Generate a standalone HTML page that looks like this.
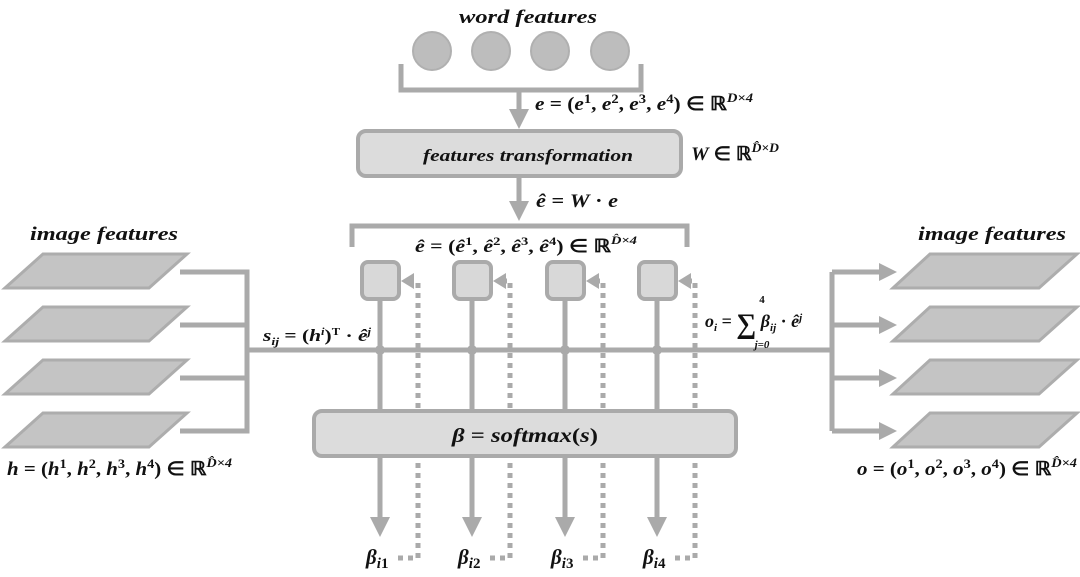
<!DOCTYPE html>
<html><head><meta charset="utf-8"><style>
body{margin:0;background:#fff}
svg{display:block}
text{font-family:"Liberation Serif",serif;font-weight:bold;fill:#111}
.it{font-style:italic}
</style></head><body>
<svg width="1080" height="577" viewBox="0 0 1080 577" xmlns="http://www.w3.org/2000/svg">
<defs>
<marker id="ah" markerWidth="4" markerHeight="4" refX="2.2" refY="2" orient="auto" markerUnits="strokeWidth"><path d="M0,0 L4,2 L0,4 z" fill="#aaa"/></marker>
<marker id="ah2" markerWidth="3.6" markerHeight="3.6" refX="1.8" refY="1.8" orient="auto" markerUnits="strokeWidth"><path d="M0,0 L3.6,1.8 L0,3.6 z" fill="#aaa"/></marker>
</defs>
<g fill="none" stroke="#aaa" stroke-width="5">
<path d="M401,64 V90 H641 V64"/>
<line x1="519" y1="90" x2="519" y2="120" marker-end="url(#ah)"/>
<line x1="519" y1="177" x2="519" y2="212" marker-end="url(#ah)"/>
<path d="M352,247 V226 H687 V247"/>
<line x1="245" y1="350" x2="832" y2="350"/>
<path d="M180,272 H247 V431 H180 M180,325 H247 M180,378 H247"/>
<path d="M832,272 V431"/>
<line x1="832" y1="272" x2="888" y2="272" marker-end="url(#ah2)"/>
<line x1="832" y1="325" x2="888" y2="325" marker-end="url(#ah2)"/>
<line x1="832" y1="378" x2="888" y2="378" marker-end="url(#ah2)"/>
<line x1="832" y1="431" x2="888" y2="431" marker-end="url(#ah2)"/>
<line x1="380" y1="300" x2="380" y2="410"/><line x1="472" y1="300" x2="472" y2="410"/>
<line x1="565" y1="300" x2="565" y2="410"/><line x1="657" y1="300" x2="657" y2="410"/>
<line x1="380" y1="457" x2="380" y2="528" marker-end="url(#ah)"/>
<line x1="472" y1="457" x2="472" y2="528" marker-end="url(#ah)"/>
<line x1="565" y1="457" x2="565" y2="528" marker-end="url(#ah)"/>
<line x1="657" y1="457" x2="657" y2="528" marker-end="url(#ah)"/>
</g>
<g fill="none" stroke="#aaa" stroke-width="5" stroke-dasharray="5,5">
<path d="M398,558 H418 V281"/><path d="M490,558 H510 V281 H498"/>
<path d="M583,558 H603 V281 H591"/><path d="M675,558 H695 V281 H683"/>
</g>
<g fill="#aaa">
<path d="M401,281 L414,273 L414,289 z"/><path d="M493,281 L506,273 L506,289 z"/>
<path d="M586,281 L599,273 L599,289 z"/><path d="M678,281 L691,273 L691,289 z"/>
<circle cx="380" cy="350" r="5"/><circle cx="472" cy="350" r="5"/><circle cx="565" cy="350" r="5"/><circle cx="657" cy="350" r="5"/>
</g>
<g fill="#bdbdbd" stroke="#b0b0b0" stroke-width="2">
<circle cx="432" cy="51" r="19"/><circle cx="491" cy="51" r="19"/><circle cx="550" cy="51" r="19"/><circle cx="610" cy="51" r="19"/>
</g>
<rect x="358" y="131" width="323" height="45" rx="8" fill="#dcdcdc" stroke="#aaa" stroke-width="4"/>
<rect x="314" y="411" width="422" height="45" rx="8" fill="#dcdcdc" stroke="#aaa" stroke-width="4"/>
<g fill="#d8d8d8" stroke="#aaa" stroke-width="4">
<rect x="362" y="262" width="37" height="37" rx="6"/><rect x="454" y="262" width="37" height="37" rx="6"/>
<rect x="547" y="262" width="37" height="37" rx="6"/><rect x="639" y="262" width="37" height="37" rx="6"/>
</g>
<g fill="#c4c4c4" stroke="#adadad" stroke-width="3">
<path d="M5,288 L43,254 L187,254 L149,288 z"/><path d="M5,341 L43,307 L187,307 L149,341 z"/>
<path d="M5,394 L43,360 L187,360 L149,394 z"/><path d="M5,447 L43,413 L187,413 L149,447 z"/>
<path d="M893,288 L930,254 L1077,254 L1039,288 z"/><path d="M893,341 L930,307 L1077,307 L1039,341 z"/>
<path d="M893,394 L930,360 L1077,360 L1039,394 z"/><path d="M893,447 L930,413 L1077,413 L1039,447 z"/>
</g>
<text class="it" x="459" y="23" font-size="19" textLength="138" lengthAdjust="spacingAndGlyphs">word features</text>
<text class="it" x="423" y="161" font-size="17" textLength="210" lengthAdjust="spacingAndGlyphs">features transformation</text>
<text class="it" x="30" y="240" font-size="19" textLength="148" lengthAdjust="spacingAndGlyphs">image features</text>
<text class="it" x="918" y="240" font-size="19" textLength="148" lengthAdjust="spacingAndGlyphs">image features</text>
<text x="535" y="110" font-size="19" textLength="218" lengthAdjust="spacingAndGlyphs"><tspan class="it">e</tspan> = (<tspan class="it">e</tspan><tspan font-size="13" dy="-7">1</tspan><tspan dy="7">, </tspan><tspan class="it">e</tspan><tspan font-size="13" dy="-7">2</tspan><tspan dy="7">, </tspan><tspan class="it">e</tspan><tspan font-size="13" dy="-7">3</tspan><tspan dy="7">, </tspan><tspan class="it">e</tspan><tspan font-size="13" dy="-7">4</tspan><tspan dy="7">) ∈ ℝ</tspan><tspan font-size="13" dy="-8" class="it">D×4</tspan></text>
<text x="691" y="160" font-size="19" textLength="88" lengthAdjust="spacingAndGlyphs"><tspan class="it">W</tspan> ∈ ℝ<tspan font-size="13" dy="-8" class="it">D̂×D</tspan></text>
<text x="536" y="207" font-size="19" textLength="82" lengthAdjust="spacingAndGlyphs"><tspan class="it">ê</tspan> = <tspan class="it">W</tspan> · <tspan class="it">e</tspan></text>
<text x="415" y="252" font-size="18" textLength="222" lengthAdjust="spacingAndGlyphs"><tspan class="it">ê</tspan> = (<tspan class="it">ê</tspan><tspan font-size="12" dy="-7">1</tspan><tspan dy="7">, </tspan><tspan class="it">ê</tspan><tspan font-size="12" dy="-7">2</tspan><tspan dy="7">, </tspan><tspan class="it">ê</tspan><tspan font-size="12" dy="-7">3</tspan><tspan dy="7">, </tspan><tspan class="it">ê</tspan><tspan font-size="12" dy="-7">4</tspan><tspan dy="7">) ∈ ℝ</tspan><tspan font-size="12" dy="-8" class="it">D̂×4</tspan></text>
<text x="263" y="341" font-size="17" textLength="108" lengthAdjust="spacingAndGlyphs"><tspan class="it">s</tspan><tspan class="it" font-size="11" dy="4">ij</tspan><tspan dy="-4"> = (</tspan><tspan class="it">h</tspan><tspan class="it" font-size="10" dy="-6">i</tspan><tspan dy="6">)</tspan><tspan font-size="10" dy="-6">T</tspan><tspan dy="6">  · </tspan><tspan class="it">ê</tspan><tspan class="it" font-size="10" dy="-6">j</tspan></text>
<text x="705" y="327" font-size="18"><tspan class="it">o</tspan><tspan class="it" font-size="11" dy="4">i</tspan><tspan dy="-4"> = </tspan><tspan font-size="28" dy="6">∑</tspan><tspan class="it" dy="-6"> β</tspan><tspan class="it" font-size="11" dy="4">ij</tspan><tspan dy="-4"> · </tspan><tspan class="it">ê</tspan><tspan class="it" font-size="11" dy="-6">j</tspan></text>
<text x="762" y="303" font-size="11" text-anchor="middle">4</text>
<text x="762" y="348" font-size="11" text-anchor="middle" class="it">j=0</text>
<text x="452" y="442" font-size="20" textLength="146" lengthAdjust="spacingAndGlyphs"><tspan class="it">β</tspan> = <tspan class="it">softmax</tspan>(<tspan class="it">s</tspan>)</text>
<text x="7" y="475" font-size="19" textLength="225" lengthAdjust="spacingAndGlyphs"><tspan class="it">h</tspan> = (<tspan class="it">h</tspan><tspan font-size="13" dy="-7">1</tspan><tspan dy="7">, </tspan><tspan class="it">h</tspan><tspan font-size="13" dy="-7">2</tspan><tspan dy="7">, </tspan><tspan class="it">h</tspan><tspan font-size="13" dy="-7">3</tspan><tspan dy="7">, </tspan><tspan class="it">h</tspan><tspan font-size="13" dy="-7">4</tspan><tspan dy="7">) ∈ ℝ</tspan><tspan font-size="13" dy="-8" class="it">D̂×4</tspan></text>
<text x="857" y="475" font-size="19" textLength="220" lengthAdjust="spacingAndGlyphs"><tspan class="it">o</tspan> = (<tspan class="it">o</tspan><tspan font-size="13" dy="-7">1</tspan><tspan dy="7">, </tspan><tspan class="it">o</tspan><tspan font-size="13" dy="-7">2</tspan><tspan dy="7">, </tspan><tspan class="it">o</tspan><tspan font-size="13" dy="-7">3</tspan><tspan dy="7">, </tspan><tspan class="it">o</tspan><tspan font-size="13" dy="-7">4</tspan><tspan dy="7">) ∈ ℝ</tspan><tspan font-size="13" dy="-8" class="it">D̂×4</tspan></text>
<g font-size="21">
<text x="366" y="564"><tspan class="it">β</tspan><tspan class="it" font-size="15" dy="4">i</tspan><tspan font-size="15">1</tspan></text>
<text x="458" y="564"><tspan class="it">β</tspan><tspan class="it" font-size="15" dy="4">i</tspan><tspan font-size="15">2</tspan></text>
<text x="551" y="564"><tspan class="it">β</tspan><tspan class="it" font-size="15" dy="4">i</tspan><tspan font-size="15">3</tspan></text>
<text x="643" y="564"><tspan class="it">β</tspan><tspan class="it" font-size="15" dy="4">i</tspan><tspan font-size="15">4</tspan></text>
</g>
</svg>
</body></html>
